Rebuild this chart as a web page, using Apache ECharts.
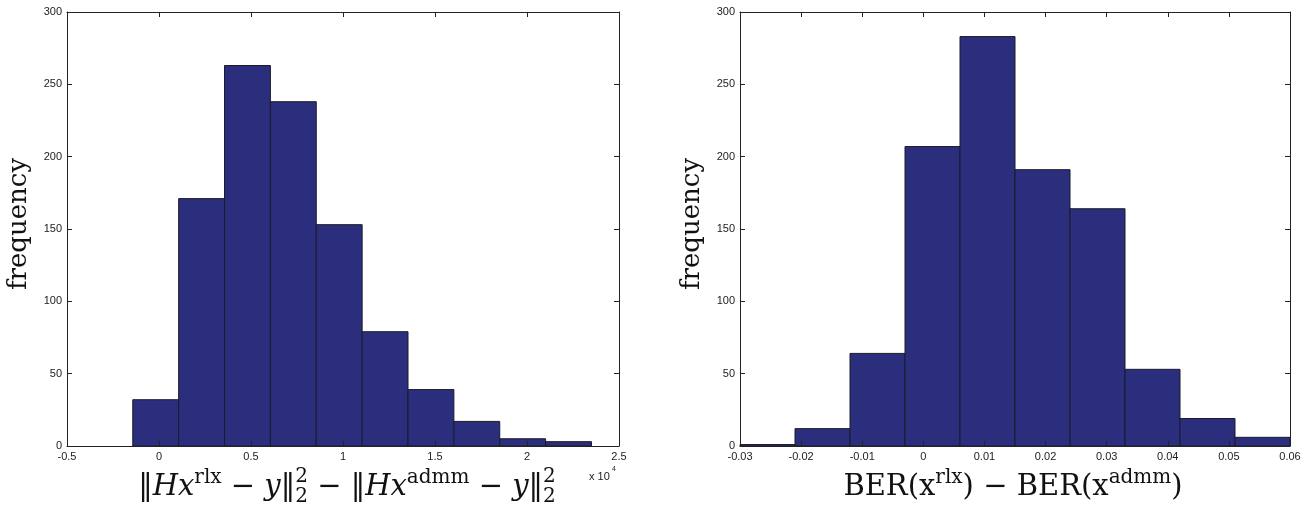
<!DOCTYPE html>
<html>
<head>
<meta charset="utf-8">
<script src="https://cdn.jsdelivr.net/npm/echarts@6/dist/echarts.min.js"></script>
<style>
  html, body { margin: 0; padding: 0; background: #fff; }
  #main { width: 1315px; height: 509px; }
</style>
</head>
<body>
<div id="main"></div>
<script>
// histogram bin edges and counts
const leftEdges = [-0.1425, 0.1068, 0.3561, 0.6054, 0.8547, 1.104, 1.3533, 1.6026, 1.8519, 2.1012, 2.3505]
const leftCounts = [32, 171, 263, 238, 153, 79, 39, 17, 5, 3]
const rightEdges = [-0.03, -0.021, -0.012, -0.003, 0.006, 0.015, 0.024, 0.033, 0.042, 0.051, 0.06]
const rightCounts = [1, 12, 64, 207, 283, 191, 164, 53, 19, 6]
const leftXRange = [-0.5, 2.5, 0.5]
const rightXRange = [-0.03, 0.06, 0.01]
const yRange = [0, 300, 50]

const barColor = '#2b2e7d'
const frameColor = '#222'
const serif = '"DejaVu Serif", "Liberation Serif", serif'

function bins (edges, counts) {
  return counts.map((c, i) => [edges[i], edges[i + 1], c])
}

function renderBar (params, api) {
  const p0 = api.coord([api.value(0), api.value(2)])
  const p1 = api.coord([api.value(1), 0])
  return {
    type: 'rect',
    shape: { x: p0[0], y: p0[1], width: p1[0] - p0[0], height: p1[1] - p0[1] },
    style: { fill: barColor, stroke: '#1b1b2a', lineWidth: 1 }
  }
}

const fmt = v => String(Number(v.toFixed(3)))

function xAxes (grid, range, pos) {
  return {
    type: 'value',
    gridIndex: grid,
    position: pos,
    min: range[0],
    max: range[1],
    interval: range[2],
    z: 5,
    splitLine: { show: false },
    axisLine: { show: true, onZero: false, lineStyle: { color: frameColor, width: 1 } },
    axisTick: { show: true, inside: true, length: 5, lineStyle: { color: frameColor } },
    axisLabel: {
      show: pos === 'bottom',
      formatter: fmt,
      margin: 5,
      fontSize: 11,
      fontFamily: 'Liberation Sans',
      color: '#222'
    }
  }
}

function yAxes (grid, pos) {
  const ax = {
    type: 'value',
    gridIndex: grid,
    position: pos,
    min: yRange[0],
    max: yRange[1],
    interval: yRange[2],
    z: 5,
    splitLine: { show: false },
    axisLine: { show: true, onZero: false, lineStyle: { color: frameColor, width: 1 } },
    axisTick: { show: true, inside: true, length: 5, lineStyle: { color: frameColor } },
    axisLabel: {
      show: pos === 'left',
      margin: 5,
      fontSize: 11,
      fontFamily: 'Liberation Sans',
      color: '#222'
    }
  }
  if (pos === 'left') {
    ax.name = 'frequency'
    ax.nameLocation = 'middle'
    ax.nameGap = 35
    ax.nameTextStyle = { fontFamily: serif, fontSize: 26, color: '#111', padding: [0, 0, 0, 10] }
  }
  return ax
}

// math-ish axis titles built from measured text pieces
const measureCtx = document.createElement('canvas').getContext('2d')
function mathLabel (pieces, cx, baseline) {
  let x = 0
  let prevX = 0
  const items = []
  pieces.forEach(p => {
    const size = p.s || 29
    const font = (p.i ? 'italic ' : '') + size + 'px ' + serif
    measureCtx.font = font
    const w = measureCtx.measureText(p.t).width
    const px = p.stack ? prevX : x
    items.push({ t: p.t, font: font, x: px, y: (p.dy || 0) - 0.34 * size })
    if (!p.stack) {
      prevX = x
      x += w
    }
  })
  const start = cx - x / 2
  return items.map(it => ({
    type: 'text',
    x: start + it.x,
    y: baseline + it.y,
    silent: true,
    style: {
      text: it.t,
      font: it.font,
      fill: '#111',
      align: 'left',
      verticalAlign: 'middle',
      textAlign: 'left',
      textVerticalAlign: 'middle'
    }
  }))
}

const leftTitle = [
  { t: '‖' }, { t: 'H', i: 1 }, { t: 'x', i: 1 }, { t: 'rlx', s: 20, dy: -12 },
  { t: ' − ' }, { t: 'y', i: 1 }, { t: '‖' },
  { t: '2', s: 20, dy: -13 }, { t: '2', s: 20, dy: 7, stack: 1 },
  { t: ' − ' }, { t: '‖' }, { t: 'H', i: 1 }, { t: 'x', i: 1 }, { t: 'admm', s: 20, dy: -12 },
  { t: ' − ' }, { t: 'y', i: 1 }, { t: '‖' },
  { t: '2', s: 20, dy: -13 }, { t: '2', s: 20, dy: 7, stack: 1 }
]
const rightTitle = [
  { t: 'BER(x' }, { t: 'rlx', s: 20, dy: -12 }, { t: ') − BER(x' }, { t: 'admm', s: 20, dy: -12 }, { t: ')' }
]

const graphics = []
  .concat(mathLabel(leftTitle, 347, 497))
  .concat(mathLabel(rightTitle, 1013, 497))
  .concat([
    { type: 'text', x: 589, y: 471, silent: true, style: { text: 'x 10', font: '11px "Liberation Sans"', fill: '#222' } },
    { type: 'text', x: 612, y: 466, silent: true, style: { text: '4', font: '7px "Liberation Sans"', fill: '#222' } }
  ])

const chart = echarts.init(document.getElementById('main'))
chart.setOption({
  animation: false,
  backgroundColor: '#fff',
  grid: [
    { left: 67, top: 12, width: 552, height: 434 },
    { left: 740, top: 12, width: 550, height: 434 }
  ],
  xAxis: [
    xAxes(0, leftXRange, 'bottom'),
    xAxes(0, leftXRange, 'top'),
    xAxes(1, rightXRange, 'bottom'),
    xAxes(1, rightXRange, 'top')
  ],
  yAxis: [
    yAxes(0, 'left'),
    yAxes(0, 'right'),
    yAxes(1, 'left'),
    yAxes(1, 'right')
  ],
  series: [
    {
      type: 'custom',
      xAxisIndex: 0,
      yAxisIndex: 0,
      renderItem: renderBar,
      encode: { x: [0, 1], y: 2 },
      data: bins(leftEdges, leftCounts)
    },
    {
      type: 'custom',
      xAxisIndex: 2,
      yAxisIndex: 2,
      renderItem: renderBar,
      encode: { x: [0, 1], y: 2 },
      data: bins(rightEdges, rightCounts)
    }
  ],
  graphic: graphics
})
</script>
</body>
</html>
